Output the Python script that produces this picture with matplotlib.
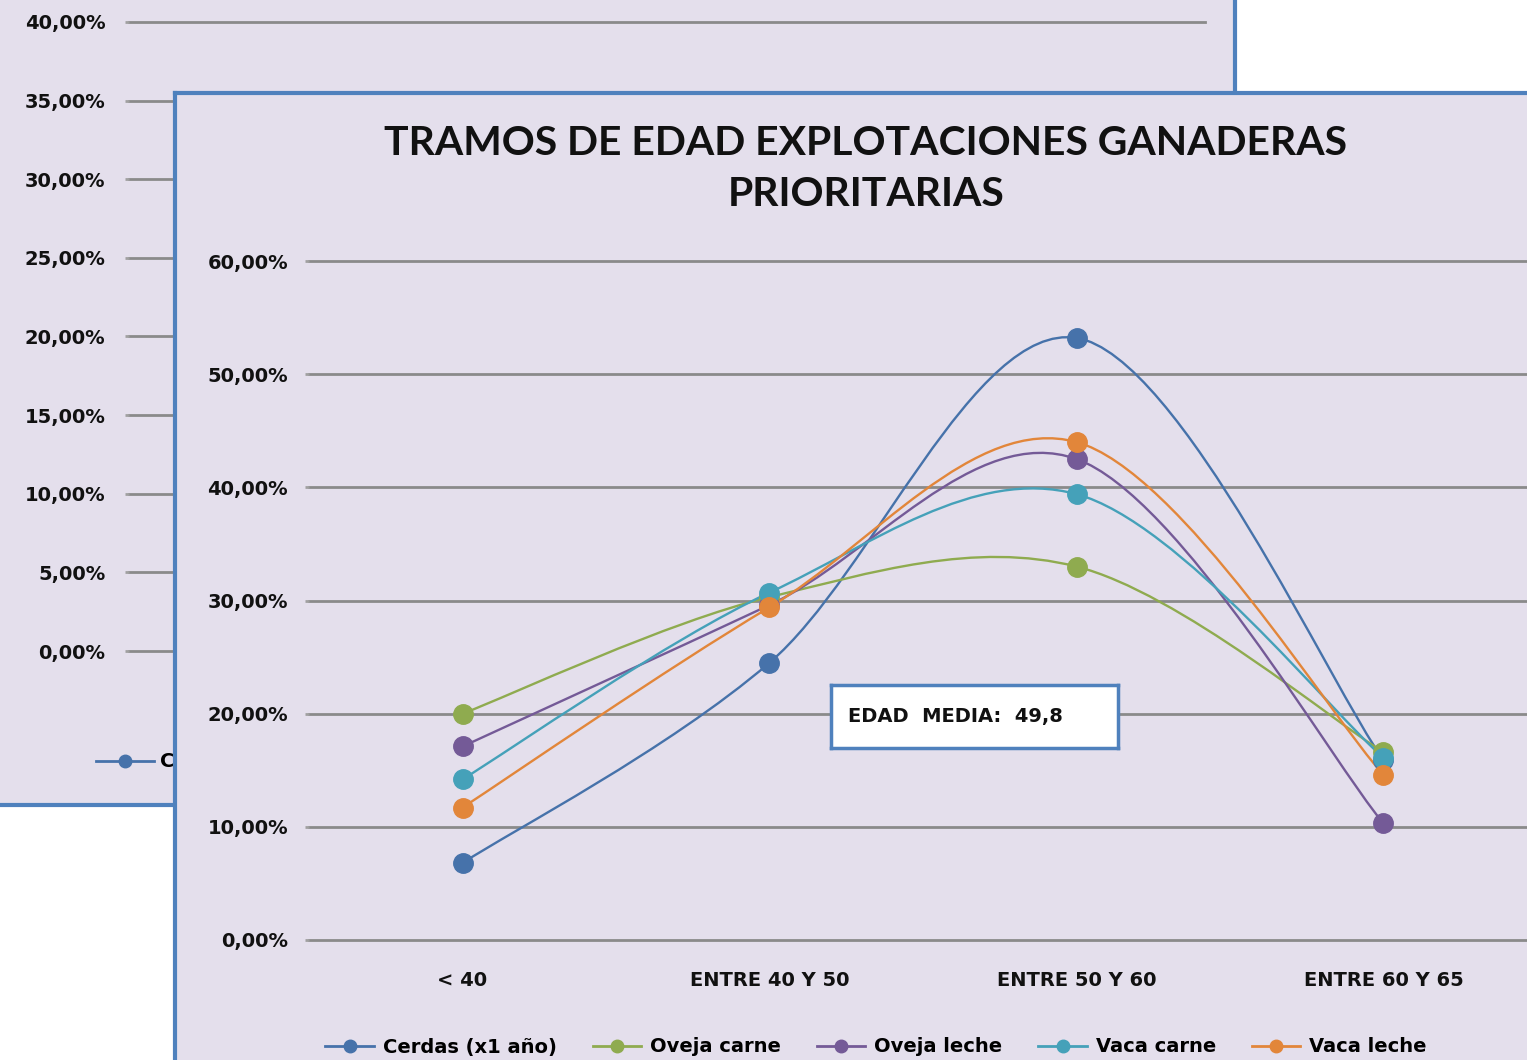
import numpy as np
import matplotlib.pyplot as plt
from matplotlib.path import Path
from matplotlib.patches import PathPatch
from matplotlib.lines import Line2D
from matplotlib.ticker import FuncFormatter

# Datos
categorias = ['< 40', 'ENTRE 40 Y 50', 'ENTRE 50 Y 60', 'ENTRE 60 Y 65']
series = ['Cerdas (x1 año)', 'Oveja carne', 'Oveja leche', 'Vaca carne', 'Vaca leche']
cerdas = [6.8, 24.5, 53.2, 15.9]
oveja_carne = [20.0, 30.3, 33.0, 16.6]
oveja_leche = [17.1, 29.6, 42.5, 10.3]
vaca_carne = [14.2, 30.7, 39.4, 16.1]
vaca_leche = [11.7, 29.4, 44.0, 14.6]
valores = [cerdas, oveja_carne, oveja_leche, vaca_carne, vaca_leche]
colores = ['#4672AA', '#8FAB4F', '#745A97', '#45A1B9', '#E2863A']

titulo = 'TRAMOS DE EDAD EXPLOTACIONES GANADERAS\nPRIORITARIAS'
nota = 'EDAD  MEDIA:  49,8'

W, H = 1527, 1060
fondo = '#E4DFEC'
borde = '#4F81BD'
rejilla = '#8A8A8A'
fuente = {'family': 'DejaVu Sans', 'weight': 'bold', 'size': 14, 'color': '#111111'}


def fr(x0, y0, x1, y1):
    # rectangulo en pixeles (origen arriba-izquierda) -> fraccion de figura
    return [x0 / W, (H - y1) / H, (x1 - x0) / W, (y1 - y0) / H]


def curva_suave(ax, xs, ys, color):
    # curva suavizada estilo Excel (Bezier cubica tipo Catmull-Rom)
    p = np.column_stack([xs, ys]).astype(float)
    n = len(p)
    verts = [p[0]]
    codes = [Path.MOVETO]
    for i in range(n - 1):
        p0 = p[i - 1] if i > 0 else p[i]
        p3 = p[i + 2] if i + 2 < n else p[i + 1]
        c1 = p[i] + (p[i + 1] - p0) / 6
        c2 = p[i + 1] - (p3 - p[i]) / 6
        verts += [c1, c2, p[i + 1]]
        codes += [Path.CURVE4] * 3
    ax.add_patch(PathPatch(Path(verts, codes), fill=False, edgecolor=color, lw=1.7, zorder=3))


pct = FuncFormatter(lambda v, pos: ('%.2f' % v).replace('.', ',') + '%')

fig = plt.figure(figsize=(W / 100, H / 100), dpi=100)
fig.patch.set_facecolor('white')

# ---- grafico de atras ----
bg1 = fig.add_axes(fr(-10, -10, 1235, 805))
bg1.set_facecolor(fondo)
bg1.set_xticks([])
bg1.set_yticks([])
for s in ['left', 'top']:
    bg1.spines[s].set_visible(False)
for s in ['right', 'bottom']:
    bg1.spines[s].set_color(borde)
    bg1.spines[s].set_linewidth(3)

ax1 = fig.add_axes(fr(129, 22, 1205, 651))
ax1.set_facecolor('none')
ax1.set_ylim(0, 40)
ax1.set_yticks(np.arange(0, 41, 5))
ax1.yaxis.set_major_formatter(pct)
ax1.set_xticks([])
ax1.grid(axis='y', color=rejilla, lw=2)
ax1.tick_params(axis='y', length=3, width=2, color='#A0A0A0', pad=14)
for s in ax1.spines.values():
    s.set_visible(False)
for t in ax1.get_yticklabels():
    t.set(**fuente)
for g in ax1.get_ygridlines():
    g.set_clip_on(False)
h1 = [Line2D([], [], color=colores[0], lw=2, marker='o', ms=9)]
ax1.legend(h1, series[:1], loc='center left', bbox_to_anchor=(78 / W, (H - 762) / H),
           bbox_transform=fig.transFigure, frameon=False, handlelength=3.0,
           handletextpad=0.3, prop={'family': 'DejaVu Sans', 'weight': 'bold', 'size': 14})

# ---- grafico de delante ----
bg2 = fig.add_axes(fr(175, 93, 1540, 1075))
bg2.set_facecolor(fondo)
bg2.set_xticks([])
bg2.set_yticks([])
for s in ['right', 'bottom']:
    bg2.spines[s].set_visible(False)
for s in ['left', 'top']:
    bg2.spines[s].set_color(borde)
    bg2.spines[s].set_linewidth(3)

fig.text(866 / W, (H - 169) / H, titulo, ha='center', va='center', fontsize=29.4,
         fontweight='bold', family=['Lato', 'DejaVu Sans'],
         color='#111111', linespacing=1.45)

ax = fig.add_axes(fr(309, 261, 1537, 940))
ax.set_facecolor('none')
ax.set_xlim(0, len(categorias))
ax.set_ylim(0, 60)
ax.set_yticks(np.arange(0, 61, 10))
ax.yaxis.set_major_formatter(pct)
xs = np.arange(len(categorias)) + 0.5
ax.set_xticks(xs)
ax.set_xticklabels(categorias)
ax.grid(axis='y', color=rejilla, lw=2)
ax.tick_params(axis='y', length=3, width=2, color='#A0A0A0', pad=12)
ax.tick_params(axis='x', length=0, pad=22)
for s in ax.spines.values():
    s.set_visible(False)
for t in ax.get_yticklabels() + ax.get_xticklabels():
    t.set(**fuente)
for g in ax.get_ygridlines():
    g.set_clip_on(False)

handles = []
for vals, col in zip(valores, colores):
    curva_suave(ax, xs, vals, col)
    ax.plot(xs, vals, linestyle='none', marker='o', ms=14, color=col, zorder=4, clip_on=False)
    handles.append(Line2D([], [], color=col, lw=2, marker='o', ms=9))

ax.legend(handles, series, loc='center', bbox_to_anchor=(876 / W, 13 / H),
          bbox_transform=fig.transFigure, ncol=5, frameon=False, handlelength=2.5,
          handletextpad=0.45, columnspacing=1.85,
          prop={'family': 'DejaVu Sans', 'weight': 'bold', 'size': 14})

# cuadro de texto
cx = fig.add_axes(fr(831, 685, 1118, 748))
cx.set_facecolor('white')
cx.set_xticks([])
cx.set_yticks([])
for s in cx.spines.values():
    s.set_color(borde)
    s.set_linewidth(2.5)
cx.text(0.06, 0.5, nota, transform=cx.transAxes, ha='left', va='center', **fuente)

plt.savefig('out.png', dpi=100)
